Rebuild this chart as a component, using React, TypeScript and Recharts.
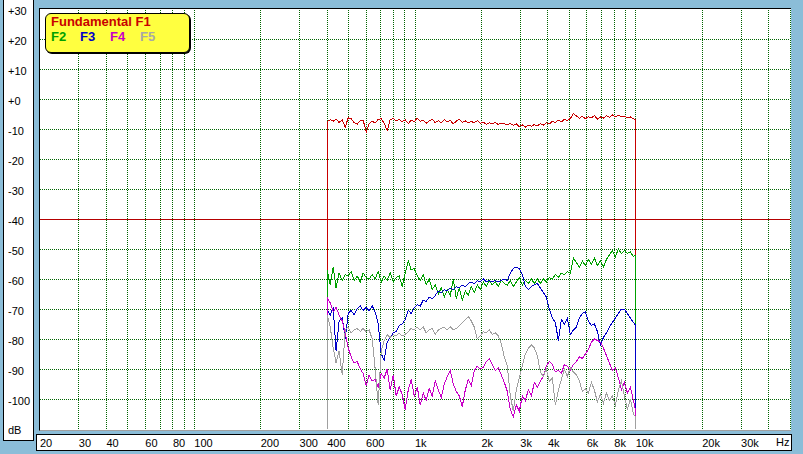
import React from 'react';
import { LineChart, Line, XAxis, YAxis, ReferenceLine } from 'recharts';

// frequency points (Hz) of the measurement, 400 Hz .. 10 kHz
const freqs = [
  400, 413, 426, 439, 453, 468, 483, 498, 514, 530,
  547, 565, 582, 601, 620, 640, 660, 681, 703, 725,
  748, 772, 797, 822, 848, 875, 903, 932, 961, 992,
  1024, 1056, 1090, 1124, 1160, 1197, 1235, 1275, 1315, 1357,
  1400, 1445, 1491, 1538, 1587, 1638, 1690, 1743, 1799, 1856,
  1915, 1976, 2039, 2104, 2171, 2240, 2311, 2385, 2461, 2539,
  2620, 2703, 2789, 2878, 2969, 3064, 3161, 3262, 3366, 3473,
  3583, 3697, 3815, 3936, 4061, 4191, 4324, 4462, 4604, 4750,
  4901, 5057, 5218, 5384, 5555, 5732, 5915, 6103, 6297, 6497,
  6704, 6917, 7137, 7365, 7599, 7841, 8090, 8348, 8613, 8887,
  9170, 9462, 9763, 10000,
];

const f1 = [
  -7.6, -6.9, -7.4, -6.7, -7.8, -6.9, -9.4, -6.3, -6.6, -7.9,
  -8.4, -7.2, -7.0, -11.0, -8.3, -7.4, -8.0, -6.8, -6.6, -8.1,
  -10.6, -6.9, -6.5, -7.3, -6.8, -7.6, -6.9, -8.2, -7.1, -7.6,
  -6.4, -7.5, -7.0, -8.1, -7.3, -6.7, -7.9, -7.2, -8.0, -6.9,
  -7.6, -7.1, -8.3, -7.4, -6.8, -7.8, -7.3, -8.0, -7.5, -7.9,
  -7.2, -8.1, -7.7, -8.4, -7.9, -8.2, -7.8, -8.5, -8.0, -8.3,
  -8.6, -8.1, -8.8, -8.3, -9.2, -8.6, -9.4, -8.7, -9.1, -8.5,
  -9.0, -8.2, -8.7, -7.9, -8.3, -7.4, -7.8, -7.1, -7.6, -6.8,
  -7.2, -6.5, -4.9, -5.6, -6.4, -5.8, -6.6, -5.9, -6.3, -5.5,
  -6.7, -6.0, -6.4, -5.6, -6.1, -5.3, -5.9, -5.4, -6.0, -5.7,
  -6.2, -6.0, -6.6, -6.8,
];

const f2 = [
  -57, -62, -56, -63, -58, -60.5, -58.5, -59, -57.5, -60.5,
  -59, -61, -58, -59.5, -60, -58.5, -60, -57.5, -61, -59,
  -60.5, -58, -61, -59.5, -59, -62.5, -58, -54, -57, -56.5,
  -59, -60.5, -58.5, -62, -60, -63.5, -62, -65, -63, -66,
  -63.5, -65.5, -60, -66.5, -63, -67, -64, -65.5, -62.5, -64.5,
  -62, -63.5, -61, -62.5, -60.5, -62, -61, -62.5, -60.5, -61.5,
  -62, -60.5, -62.5, -61, -59.5, -62, -60.5, -61.5, -60, -61.5,
  -60, -61.5, -60, -61, -59.5, -60, -58.5, -59.5, -58, -58.5,
  -57.5, -58, -53, -54.5, -56, -54, -55.5, -53.5, -55, -53,
  -55.5, -54, -56, -53.5, -52, -50.5, -52.5, -50, -51.5, -50.5,
  -51.5, -51, -52.5, -52,
];

const f3 = [
  -70, -72, -69.5, -84, -74, -73, -80, -71.5, -70.5, -72,
  -70, -69, -70.5, -69.5, -70.5, -69, -71, -75, -85, -87,
  -81, -79.5, -78, -77.5, -75.5, -75, -73.5, -70.5, -71.5, -69.5,
  -68.5, -69, -67, -67.5, -66, -66.5, -65.5, -64, -64.5, -63.5,
  -64, -63, -63.5, -62.5, -63, -62, -62.5, -61.5, -61, -61.5,
  -60.5, -61, -60, -61, -60.5, -61, -60.5, -61, -60.5, -60,
  -60.5, -58, -56.5, -56, -56.5, -58.5, -62.5, -63.5, -62.5, -62,
  -61.5, -63, -64.5, -66, -70, -73, -74.5, -80.5, -73.5, -75,
  -73, -78.5, -77, -76, -73, -71.5, -71, -74, -75.5, -75,
  -77.5, -82, -79.5, -78, -76, -74.5, -73, -71.5, -70, -70,
  -71.5, -73, -74.5, -75.5,
];

const f4 = [
  -66, -68, -71, -69.5, -72, -74, -78, -83, -86, -88,
  -87.5, -90, -91.5, -95.5, -92, -94, -93.5, -96, -91.5, -93,
  -90, -97, -92, -99, -96, -98.5, -103.5, -97, -93.5, -99,
  -96, -102, -98, -100.5, -96.5, -99, -94, -97, -99.5, -95,
  -92.5, -90.5, -95, -97.5, -99, -102.5, -97, -93.5, -95.5, -90.5,
  -89, -90, -89.5, -87.5, -86.5, -88.5, -90.5, -89.5, -92, -94.5,
  -97.5, -103.5, -106, -102, -104, -99, -100.5, -97, -99, -94.5,
  -96, -94, -92.5, -89, -87.5, -88.5, -91, -90.5, -91.5, -88.5,
  -89, -90.5, -88.5, -87.5, -86, -86.5, -85, -83.5, -81, -80,
  -80.5, -81, -83, -85.5, -88, -90.5, -89.5, -93, -97, -94.5,
  -98, -96, -100.5, -104,
];

const f5 = [
  -72, -76, -83, -88, -84, -92, -77, -76, -78, -77,
  -76.5, -77.5, -76.5, -77.5, -77, -80, -90, -102, -84, -80.5,
  -78.5, -79.5, -78.5, -79, -78, -79, -78.5, -77.5, -76.5, -77,
  -76, -77, -76, -78, -77, -76.5, -78.5, -77, -76.5, -76,
  -77, -76, -77, -76.5, -75.5, -74.5, -73.5, -72.5, -74, -76,
  -80, -79, -77.5, -78, -77, -78.5, -78, -79, -81.5, -86,
  -89, -99, -104, -97, -93, -89, -85, -83, -82, -83,
  -85.5, -91, -92.5, -90, -94, -93, -102, -97, -93.5, -90,
  -92.5, -89.5, -91, -92, -94, -97.5, -96.5, -98, -94.5, -97,
  -101, -98.5, -101.5, -98, -100.5, -99, -102, -97, -94, -99,
  -103.5, -100, -105, -106,
];

const floorDb = -110;
const xTicks = [20, 30, 40, 60, 80, 100, 200, 300, 400, 600, 1000, 2000, 3000, 4000, 6000, 8000, 10000, 20000, 30000];
const yTicks = [30, 20, 10, 0, -10, -20, -30, -40, -50, -60, -70, -80, -90, -100];
const gridFreqs = [
  30, 40, 50, 60, 70, 80, 90, 100, 200, 300, 400, 500, 600, 700, 800, 900,
  1000, 2000, 3000, 4000, 5000, 6000, 7000, 8000, 9000, 10000, 20000, 30000, 40000, 50000,
];
const gridDb = [20, 10, 0, -10, -20, -30, -50, -60, -70, -80, -90, -100];

const FONT = '"Liberation Sans", Arial, sans-serif';
const GRID = '#006400';

const series = [
  { key: 'F1', color: '#c80000', values: f1 },
  { key: 'F2', color: '#00a000', values: f2 },
  { key: 'F3', color: '#0000c8', values: f3 },
  { key: 'F4', color: '#c800c8', values: f4 },
  { key: 'F5', color: '#a0a0a0', values: f5 },
];

// each trace starts and ends at the bottom of the scale
const data = [
  { f: freqs[0], F1: floorDb, F2: floorDb, F3: floorDb, F4: floorDb, F5: floorDb },
  ...freqs.map((f, i) => ({ f, F1: f1[i], F2: f2[i], F3: f3[i], F4: f4[i], F5: f5[i] })),
  { f: freqs[freqs.length - 1], F1: floorDb, F2: floorDb, F3: floorDb, F4: floorDb, F5: floorDb },
];

const fmtHz = (v: number) => (v >= 1000 ? `${v / 1000}k` : `${v}`);
const fmtDb = (v: number) => (v >= 0 ? `+${v}` : `${v}`);

const XTick = (props: any) => (
  <text x={props.x} y={447} fontSize={11} fontFamily={FONT} fill="#000" textAnchor="start">
    {fmtHz(props.payload.value)}
  </text>
);

const YTick = (props: any) => (
  <text x={8} y={props.y + 6} fontSize={11} fontFamily={FONT} fill="#000" textAnchor="start">
    {fmtDb(props.payload.value)}
  </text>
);

export default function App() {
  return (
    <div style={{ position: 'relative', width: 803, height: 454, background: '#8bbdd8', overflow: 'hidden', fontFamily: FONT }}>
      <style>{'body{margin:0}'}</style>

      {/* dB scale panel */}
      <div style={{ position: 'absolute', left: 3, top: -1, width: 31, height: 442, boxSizing: 'border-box', background: '#fff', border: '1px solid #000' }} />
      <div style={{ position: 'absolute', left: 8, top: 425, fontSize: 11, lineHeight: '11px', color: '#000' }}>dB</div>

      {/* frequency scale panel */}
      <div style={{ position: 'absolute', left: 36, top: 434, width: 756, height: 17, boxSizing: 'border-box', background: '#fff', border: '1px solid #000' }} />
      <div style={{ position: 'absolute', left: 776, top: 437, fontSize: 11, lineHeight: '11px', color: '#000' }}>Hz</div>

      {/* plot background */}
      <div style={{ position: 'absolute', left: 39, top: 8, width: 752, height: 423, boxSizing: 'border-box', background: '#fff', borderTop: '1px solid #000', borderLeft: '1px solid #000', borderBottom: '1px solid #a0a0a0' }} />

      <div style={{ position: 'absolute', left: 0, top: 0 }}>
        <LineChart width={803} height={454} data={data} margin={{ top: 9, right: 13, bottom: 0, left: 0 }}>
          <XAxis
            dataKey="f"
            type="number"
            scale="log"
            domain={[20, 50000]}
            allowDataOverflow
            ticks={xTicks}
            interval={0}
            tick={<XTick />}
            tickLine={false}
            axisLine={false}
            height={25}
          />
          <YAxis
            type="number"
            domain={[floorDb, 30]}
            allowDataOverflow
            ticks={yTicks}
            interval={0}
            tick={<YTick />}
            tickLine={false}
            axisLine={false}
            width={40}
          />
          {gridFreqs.map((v) => (
            <ReferenceLine key={`gx${v}`} x={v} stroke={GRID} strokeDasharray="1 1" shapeRendering="crispEdges" />
          ))}
          {gridDb.map((v) => (
            <ReferenceLine key={`gy${v}`} y={v} stroke={GRID} strokeDasharray="1 1" shapeRendering="crispEdges" />
          ))}
          <ReferenceLine y={-40} stroke="#b40000" shapeRendering="crispEdges" />
          {series.map((s) => (
            <Line
              key={s.key}
              dataKey={s.key}
              type="linear"
              stroke={s.color}
              strokeWidth={1}
              dot={false}
              activeDot={false}
              shapeRendering="crispEdges"
              isAnimationActive={false}
            />
          ))}
        </LineChart>
      </div>

      {/* legend */}
      <div style={{ position: 'absolute', left: 45, top: 13, width: 145, height: 40, boxSizing: 'border-box', background: '#ffff40', border: '1px solid #000', borderRadius: 6, boxShadow: '1px 1px 0 #000' }} />
      <div style={{ position: 'absolute', left: 51, top: 15, fontSize: 13, lineHeight: '13px', fontWeight: 'bold', color: '#c80000', whiteSpace: 'nowrap' }}>Fundamental F1</div>
      <div style={{ position: 'absolute', left: 51, top: 30, fontSize: 13, lineHeight: '13px', fontWeight: 'bold', color: '#00a000' }}>F2</div>
      <div style={{ position: 'absolute', left: 80, top: 30, fontSize: 13, lineHeight: '13px', fontWeight: 'bold', color: '#0000c8' }}>F3</div>
      <div style={{ position: 'absolute', left: 110, top: 30, fontSize: 13, lineHeight: '13px', fontWeight: 'bold', color: '#c800c8' }}>F4</div>
      <div style={{ position: 'absolute', left: 140, top: 30, fontSize: 13, lineHeight: '13px', fontWeight: 'bold', color: '#a8a8a8' }}>F5</div>
    </div>
  );
}
